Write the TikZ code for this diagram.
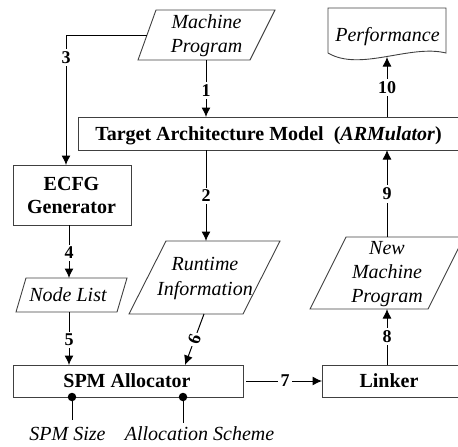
\documentclass[tikz,border=0pt]{standalone}
\usepackage{fontspec}
\setmainfont{Liberation Serif}
\usetikzlibrary{arrows.meta}
\begin{document}
\begin{tikzpicture}[x=1pt,y=-1pt,
  shapeline/.style={draw=black!75, line width=0.9pt},
  conn/.style={draw=black, line width=1pt, -{Latex[length=9.5pt,width=9pt]}},
  plainline/.style={draw=black, line width=1pt},
  num/.style={font=\fontsize{18}{20}\selectfont\bfseries, fill=white, inner sep=2.5pt},
  itxt/.style={font=\fontsize{20}{24}\selectfont\itshape, align=center, inner sep=0pt},
  btxt/.style={font=\fontsize{20}{24}\selectfont\bfseries, align=center, inner sep=0pt},
  pin/.style={fill=black, circle, inner sep=0pt, minimum size=8.5pt}
]
\useasboundingbox (0,0) rectangle (458,447);
\clip (0,0) rectangle (458,447);

% ---- shapes ----
\draw[shapeline] (138,60) -- (250,60) -- (275,10) -- (156,10) -- cycle;            % Machine Program
\draw[shapeline] (328,53) -- (328,8) -- (446,8) -- (446,53)
   .. controls (410,44) and (360,72) .. (328,53);                                     % Performance
\draw[shapeline] (78,117) rectangle (470,150);                                        % TAM
\draw[shapeline] (13,165) rectangle (131,225);                                        % ECFG
\draw[shapeline] (16,312) -- (117,312) -- (127,278) -- (26,278) -- cycle;            % Node List
\draw[shapeline] (129,314) -- (243,314) -- (280,241) -- (166,241) -- cycle;          % Runtime
\draw[shapeline] (310,309) -- (428,309) -- (464,237) -- (346,237) -- cycle;          % New MP
\draw[shapeline] (13,365) rectangle (243,397);                                        % SPM
\draw[shapeline] (322,365) rectangle (470,397);                                       % Linker

% ---- texts ----
\node[itxt] (mp) at (206.5,35.6) {Machine\\Program};
\node[itxt, anchor=base] (perf) at (387.5,41.7) {Performance};
\node[btxt, anchor=base] (tam) at (268.5,140) {Target Architecture Model\ \ (\textit{ARMulator})};
\node[btxt, font=\fontsize{20}{23}\selectfont\bfseries] (ecfg) at (71.5,195) {ECFG\\Generator};
\node[itxt, anchor=base] (nl) at (68,301.7) {Node List};
\node[itxt, font=\fontsize{20}{25}\selectfont\itshape] (rt) at (205,279) {Runtime\\Information};
\node[itxt] (nmp) at (387,274.5) {New\\Machine\\Program};
\node[btxt, anchor=base] (spm) at (127,387) {SPM Allocator};
\node[btxt, anchor=base] (lnk) at (389,387.5) {Linker};
\node[itxt, anchor=base] (sz) at (67.5,440) {SPM Size};
\node[itxt, anchor=base] (as) at (199.5,440) {Allocation Scheme};

% ---- connection points ----
\coordinate (mpB) at (206,60);
\coordinate (mpL) at (147,35);
\coordinate (tamT) at (206,117);
\coordinate (tamB) at (206,150);
\coordinate (tamT2) at (387,117);
\coordinate (tamB2) at (387,150);
\coordinate (perfB) at (387,57);
\coordinate (ecfgT) at (66,165);
\coordinate (ecfgB) at (69,225);
\coordinate (nlT) at (69,278);
\coordinate (nlB) at (69,312);
\coordinate (rtT) at (206,241);
\coordinate (rtB) at (204,314);
\coordinate (spmT1) at (69,365);
\coordinate (spmT2) at (185,365);
\coordinate (spmR) at (246,381);
\coordinate (lnkL) at (322,381);
\coordinate (lnkT) at (387,365);
\coordinate (nmpB) at (387,309);
\coordinate (nmpT) at (387,237);

% ---- connectors ----
\draw[conn] (mpB) -- (tamT);
\draw[conn] (tamB) -- (rtT);
\draw[conn] (mpL) -- (mpL -| ecfgT) -- (ecfgT);
\draw[conn] (ecfgB) -- (nlT);
\draw[conn] (nlB) -- (spmT1);
\draw[conn] (rtB) -- node[num, sloped] (n6) {6} (spmT2);
\draw[conn] (spmR) -- (lnkL);
\draw[conn] (lnkT) -- (nmpB);
\draw[conn] (nmpT) -- (tamB2);
\draw[conn] (tamT2) -- (perfB);

% ---- number labels ----
\node[num] (n1) at (206,90.8) {1};
\node[num] (n2) at (206,196) {2};
\node[num] (n3) at (66,57.5) {3};
\node[num] (n4) at (69,253) {4};
\node[num] (n5) at (69,340) {5};
\node[num] (n7) at (285,381) {7};
\node[num] (n8) at (387,336.5) {8};
\node[num] (n9) at (387,194) {9};
\node[num] (n10) at (387,87.5) {10};

% ---- pins ----
\node[pin] (p1) at (72,397) {};
\node[pin] (p2) at (183,397) {};
\coordinate (p1e) at (72,420);
\coordinate (p2e) at (183,423);
\draw[plainline] (p1) -- (p1e);
\draw[plainline] (p2) -- (p2e);
\end{tikzpicture}
\end{document}
